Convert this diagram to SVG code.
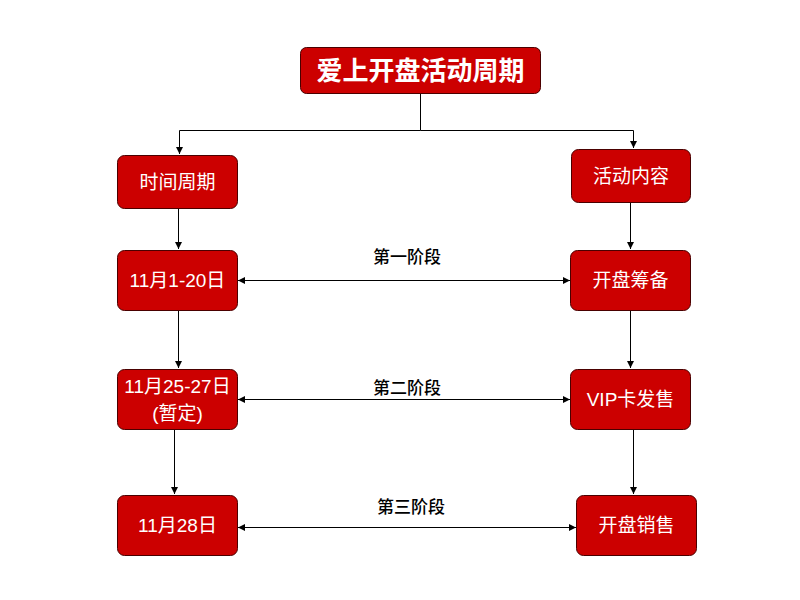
<svg xmlns="http://www.w3.org/2000/svg" width="800" height="600" viewBox="0 0 800 600">
<defs>
<marker id="ah" viewBox="0 0 10 10" refX="10" refY="5" markerWidth="7" markerHeight="7" markerUnits="userSpaceOnUse" orient="auto-start-reverse">
<path d="M0,0 L10,5 L0,10 z" fill="#000"/>
</marker>
<style>
.box{fill:#CC0000;stroke:#4a0000;stroke-width:1}
.t{fill:#fff;font-family:"Liberation Sans","Noto Sans CJK SC",sans-serif;font-size:19px;text-anchor:middle;dominant-baseline:central}
.tt{fill:#fff;font-family:"Liberation Sans","Noto Sans CJK SC",sans-serif;font-size:26px;font-weight:bold;text-anchor:middle;dominant-baseline:central}
.lb{fill:#000;font-family:"Noto Sans CJK SC",sans-serif;font-size:17px;font-weight:500;text-anchor:middle;dominant-baseline:central}
.c{fill:none;stroke:#000;stroke-width:1}
</style>
</defs>
<rect width="800" height="600" fill="#fff"/>
<g id="connectors">
<path class="c" d="M420.5,93 V130.5 H179.5 V154" marker-end="url(#ah)"/>
<path class="c" d="M420.5,130.5 H633.5 V148" marker-end="url(#ah)"/>
<path class="c" d="M178.5,208 V249" marker-end="url(#ah)"/>
<path class="c" d="M630.5,202 V249" marker-end="url(#ah)"/>
<path class="c" d="M178.5,311 V368" marker-end="url(#ah)"/>
<path class="c" d="M630.5,311 V368" marker-end="url(#ah)"/>
<path class="c" d="M174.5,429 V494" marker-end="url(#ah)"/>
<path class="c" d="M633.5,429 V494" marker-end="url(#ah)"/>
<path class="c" d="M238,280.5 H570" marker-start="url(#ah)" marker-end="url(#ah)"/>
<path class="c" d="M238,399.5 H570" marker-start="url(#ah)" marker-end="url(#ah)"/>
<path class="c" d="M238,527.5 H576" marker-start="url(#ah)" marker-end="url(#ah)"/>
<text class="lb" x="407" y="255">第一阶段</text>
<text class="lb" x="407" y="386">第二阶段</text>
<text class="lb" x="411" y="505">第三阶段</text>
</g>
<g id="title"><rect class="box" x="300.5" y="47.5" width="240" height="46" rx="6"/><text class="tt" x="420.5" y="71">爱上开盘活动周期</text></g>
<g id="n-time"><rect class="box" x="117.5" y="155.5" width="120" height="53" rx="7"/><text class="t" x="177.5" y="182">时间周期</text></g>
<g id="n-content"><rect class="box" x="571.5" y="149.5" width="119" height="53" rx="7"/><text class="t" x="631" y="176">活动内容</text></g>
<g id="n-d1"><rect class="box" x="117.5" y="250.5" width="120" height="60" rx="7"/><text class="t" x="177.5" y="280">11月1-20日</text></g>
<g id="n-prep"><rect class="box" x="570.5" y="250.5" width="120" height="60" rx="7"/><text class="t" x="630.5" y="280">开盘筹备</text></g>
<g id="n-d2"><rect class="box" x="117.5" y="369.5" width="120" height="60" rx="7"/><text class="t" x="177.5" y="386">11月25-27日</text><text class="t" x="177.5" y="413">(暂定)</text></g>
<g id="n-vip"><rect class="box" x="570.5" y="369.5" width="120" height="60" rx="7"/><text class="t" x="630.5" y="399">VIP卡发售</text></g>
<g id="n-d3"><rect class="box" x="117.5" y="495.5" width="120" height="60" rx="7"/><text class="t" x="177.5" y="525">11月28日</text></g>
<g id="n-sale"><rect class="box" x="576.5" y="495.5" width="120" height="60" rx="7"/><text class="t" x="636.5" y="525">开盘销售</text></g>
</svg>
